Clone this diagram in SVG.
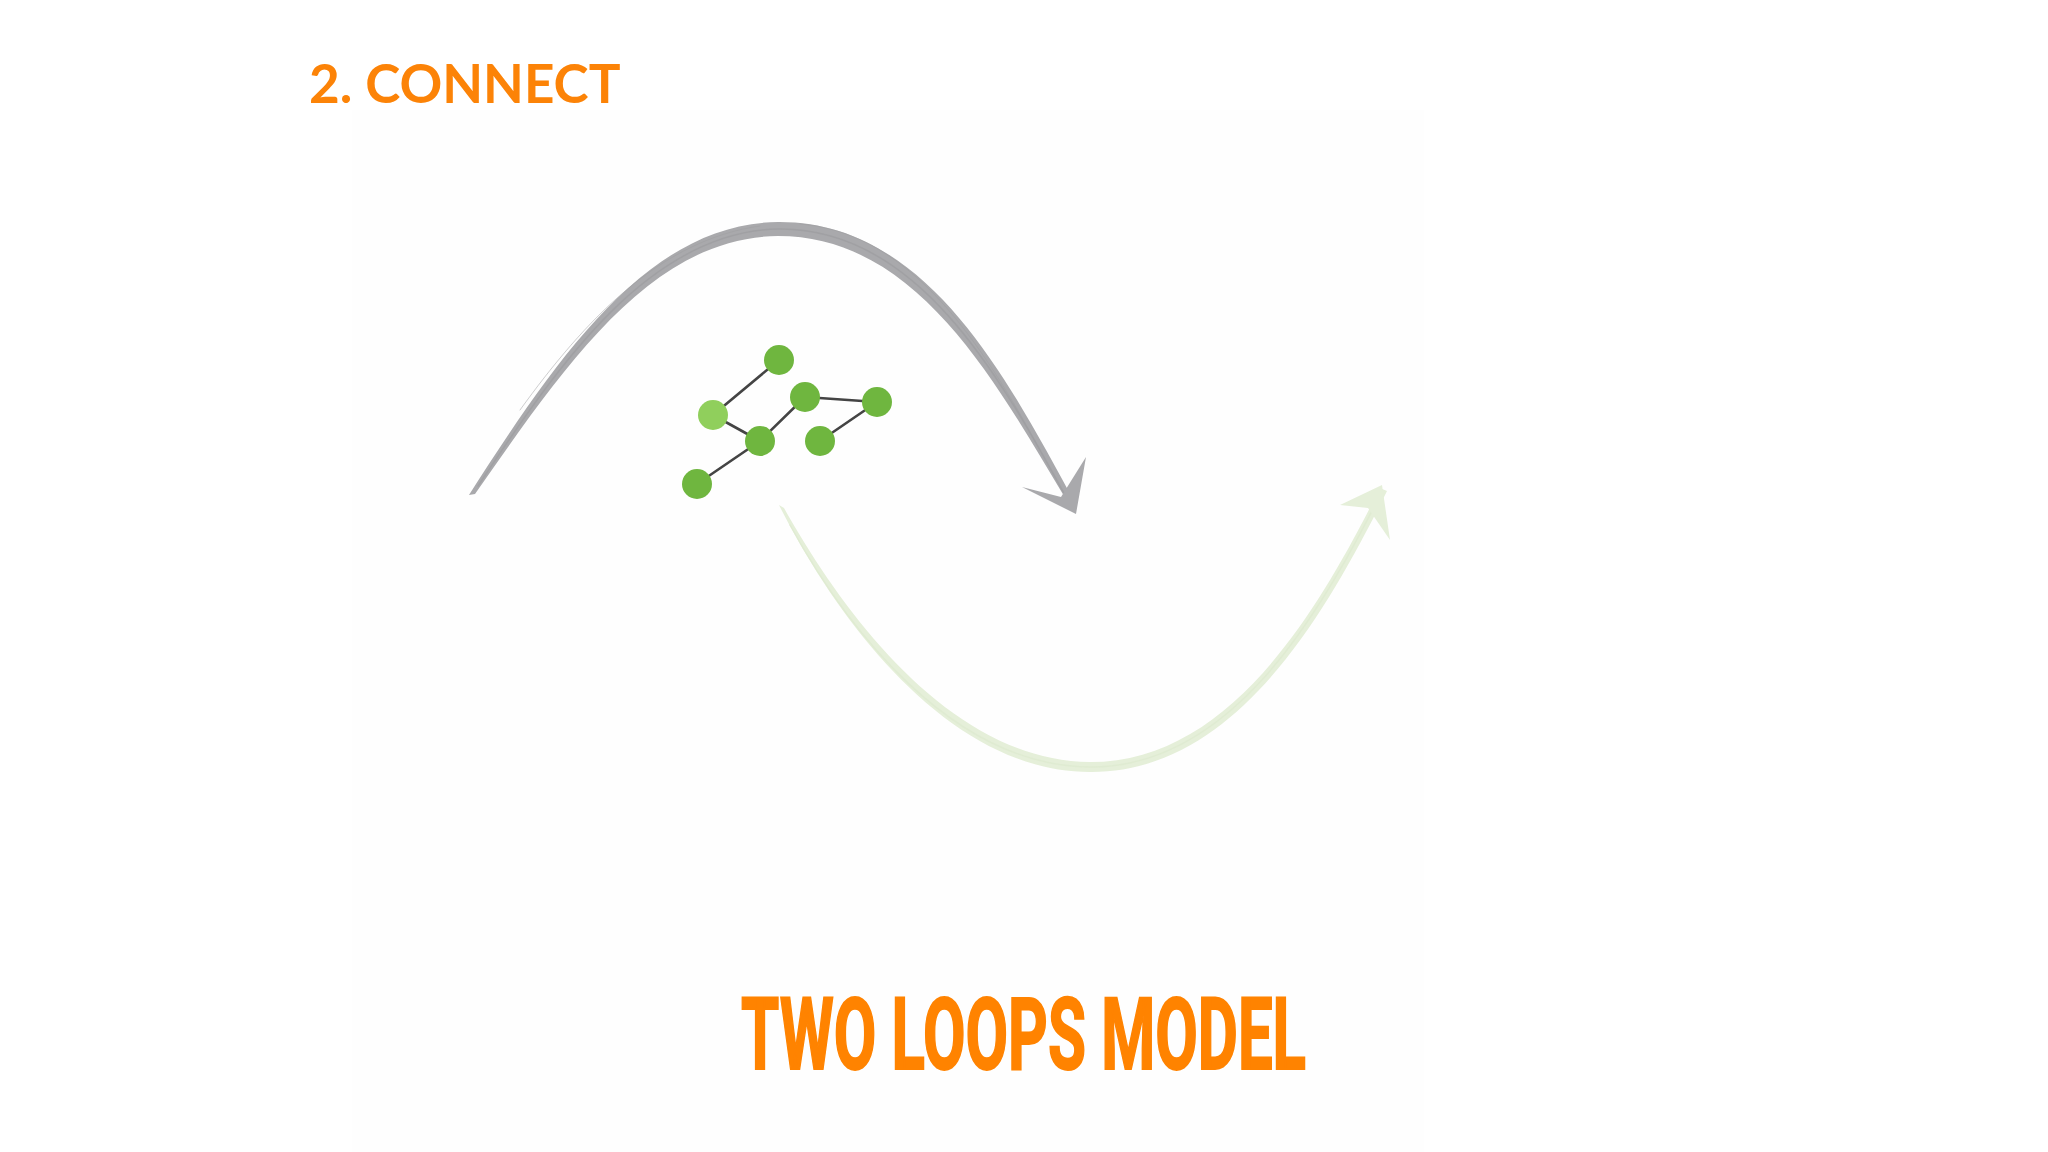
<svg xmlns="http://www.w3.org/2000/svg" width="2048" height="1152" viewBox="0 0 2048 1152">
  <style>
    .node { fill: #6fb63f; }
    .node-light { fill: #90cf5c; }
    .edge { stroke: #444444; stroke-width: 2.6; fill: none; stroke-linecap: round; }
    .gray { fill: #a9a9ac; }
    .gray-brush { fill: none; stroke: #9d9da0; stroke-linecap: round; }
    .green { fill: #e5efd9; }
    .green-brush { fill: none; stroke: #dde9cf; stroke-linecap: round; }
    .heading { font-family: Lato, "Noto Sans", "Liberation Sans", sans-serif; font-weight: 700; fill: #fc8307; }
    .title { font-family: Roboto, "Liberation Sans", sans-serif; font-weight: 700; fill: #ff8300; stroke: #ff8300; stroke-width: 2; }
  </style>
  <rect x="0" y="0" width="2048" height="1152" fill="#ffffff"/>
  <rect x="352" y="110" width="1072" height="1042" fill="#fefefe"/>

  <text class="heading" x="309" y="103" font-size="53">2. CONNECT</text>

  <g id="loops">
    <g id="loop-gray">
      <path class="gray" d="M469,495 C557,358 648,223 778,222 C926,221 1006,376 1075,503 L1067,501 C996,383 918,236 778,236 C652,237 566,364 475,494 Z"/>
      <path class="gray-brush" stroke-width="1.5" opacity="0.7" d="M478,486 C560,362 650,232 778,229 C915,227 998,372 1066,497"/>
      <path class="gray-brush" stroke-width="1" opacity="0.5" d="M520,410 C585,320 660,240 760,226"/>
      <path class="gray-brush" stroke-width="1" opacity="0.5" d="M800,224 C900,232 970,320 1040,450"/>
      <path class="gray" d="M1076,514 L1022,487 L1061,497 L1086,457 Z"/>
    </g>
    <g id="loop-green">
      <path class="green" d="M779,505 C838,622 950,772 1090,772 C1232,773 1322,622 1387,491 L1380,488 C1316,616 1228,762 1090,762 C953,761 845,617 784,508 Z"/>
      <path class="green-brush" stroke-width="1.5" opacity="0.7" d="M790,525 C845,625 950,766 1090,767 C1228,768 1318,620 1380,495"/>
      <path class="green" d="M1382,485 L1340,505 L1368,508 L1390,540 Z"/>
    </g>
  </g>

  <g id="connectors">
    <line class="edge" x1="779" y1="360" x2="713" y2="415"/>
    <line class="edge" x1="713" y1="415" x2="760" y2="441"/>
    <line class="edge" x1="760" y1="441" x2="805" y2="397"/>
    <line class="edge" x1="805" y1="397" x2="877" y2="402"/>
    <line class="edge" x1="877" y1="402" x2="820" y2="441"/>
    <line class="edge" x1="760" y1="441" x2="697" y2="484"/>
  </g>

  <g id="node-1"><circle class="node" cx="779" cy="360" r="15"/></g>
  <g id="node-2"><circle class="node-light" cx="713" cy="415" r="15"/></g>
  <g id="node-3"><circle class="node" cx="805" cy="397" r="15"/></g>
  <g id="node-4"><circle class="node" cx="877" cy="402" r="15"/></g>
  <g id="node-5"><circle class="node" cx="760" cy="441" r="15"/></g>
  <g id="node-6"><circle class="node" cx="820" cy="441" r="15"/></g>
  <g id="node-7"><circle class="node" cx="697" cy="484" r="15"/></g>

  <text class="title" x="741" y="1069" font-size="100" textLength="565" lengthAdjust="spacingAndGlyphs">TWO LOOPS MODEL</text>
</svg>
